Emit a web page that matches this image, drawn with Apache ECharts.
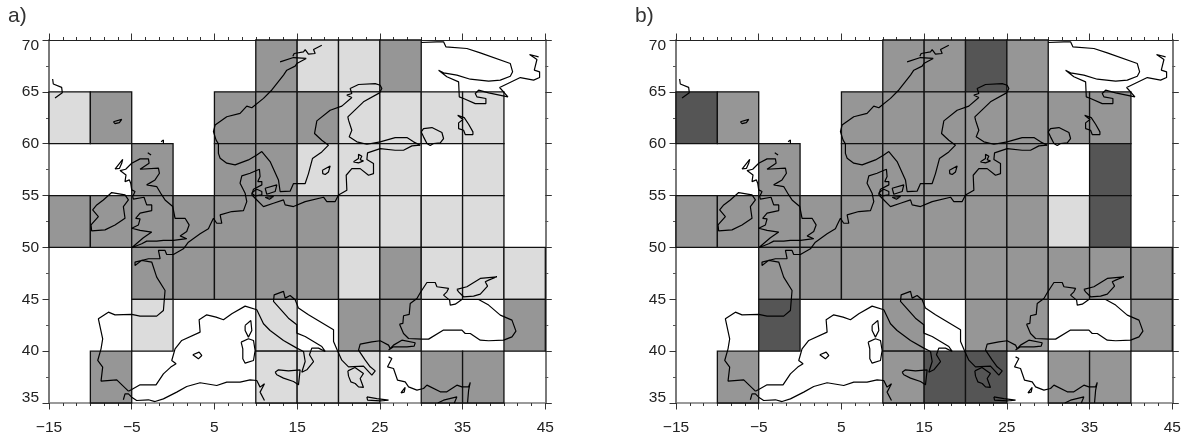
<!DOCTYPE html>
<html><head><meta charset="utf-8">
<style>html,body{margin:0;padding:0;background:#fff}#c{width:1190px;height:437px}</style>
<script src="https://cdn.jsdelivr.net/npm/echarts@6/dist/echarts.min.js"></script>
</head><body><div id="c"></div>
<script>
// Longitude / latitude ticks
const lonTicks = [-15,-5,5,15,25,35,45];
const latTicks = [35,40,45,50,55,60,65,70];
const cellLons = [-15,-10,-5,0,5,10,15,20,25,30,35,40];
const cellLats = [65,60,55,50,45,40,35];   // lower edge of each row
// cell class: 0 none, 1 light, 2 medium, 3 dark
const panelA = [
 [0,0,0,0,0,2,1,1,2,0,0,0],
 [1,2,0,0,2,2,2,1,1,1,1,0],
 [0,0,2,0,2,2,1,1,1,0,1,0],
 [2,2,2,2,2,2,2,1,1,1,1,0],
 [0,0,2,2,2,2,2,1,2,1,1,1],
 [0,0,1,0,0,1,0,2,2,0,0,2],
 [0,2,0,0,0,1,1,1,0,2,2,0]
];
const panelB = [
 [0,0,0,0,0,2,2,3,2,0,0,0],
 [3,2,0,0,2,2,2,2,2,2,2,0],
 [0,0,2,0,2,2,2,2,2,0,3,0],
 [2,2,2,2,2,2,2,2,2,1,3,0],
 [0,0,2,2,2,2,2,2,2,2,2,2],
 [0,0,3,0,0,2,0,2,2,0,0,2],
 [0,2,0,0,0,2,3,3,0,2,2,0]
];
const cellColors = [null,'#dcdcdc','#969696','#555555'];

// Coastlines [lon,lat]
const iceland = [[-14.56,66.24],[-14.48,65.76],[-13.47,65.43],[-13.39,64.92],[-14.27,64.4]];
const faroe = [[-7.22,62.12],[-6.21,62.35],[-6.49,62.03],[-7.02,61.93],[-7.22,62.12]];
const shetland = [[-1.45,60.2],[-1.17,60.35],[-1.17,59.97]];
const orkney = [[-3.06,59.13],[-2.66,58.91]];
const hebrides = [[-7.02,57.56],[-6.09,58.49],[-6.21,58.11],[-6.49,57.62],[-7.02,57.56]];
const britain = [[1.65,50.84],[0.04,50.68],[-1.17,50.68],[-1.98,50.61],[-3.19,50.61],[-3.79,50.35],[-5,49.97],[-3.59,50.93],[-2.58,51.48],[-3.99,51.64],[-5,51.85],[-4.19,52.17],[-3.99,52.75],[-4.52,52.81],[-3.99,53.3],[-2.58,53.55],[-2.58,54.1],[-3.19,54.1],[-3.51,54.84],[-4.8,54.65],[-4.88,54.9],[-4.6,55.39],[-5,55.55],[-5.12,56.19],[-5.28,56.51],[-5.81,56.35],[-5.69,56.99],[-6.41,57.41],[-5.73,57.54],[-5,58.12],[-3.99,58.54],[-2.98,58.54],[-2.9,58.12],[-3.99,57.54],[-1.77,57.64],[-1.65,57.15],[-2.18,56.51],[-3.19,56.03],[-1.98,55.87],[-1.37,55.06],[-0.97,54.58],[-0.04,53.94],[0.24,52.81],[1.45,52.81],[1.94,52.17],[1.65,51.53],[0.85,51.11],[1.65,50.84]];
const ireland = [[-8.43,54.58],[-7.42,55.29],[-5.81,55.06],[-5.4,54.58],[-6.01,53.94],[-5.81,52.81],[-7.02,52.17],[-8.23,51.69],[-9.84,51.59],[-9.92,52.17],[-9.03,52.97],[-9.72,53.62],[-9.23,54.1],[-8.43,54.58]];
const atlanticCoast = [[-5.4,36.14],[-6.81,37.23],[-8.71,37.11],[-8.51,38.46],[-9.11,39.1],[-8.71,40.22],[-8.51,41.19],[-9.03,43.12],[-7.82,43.76],[-7.02,43.5],[-5,43.54],[-3.99,43.38],[-1.98,43.38],[-1.17,43.92],[-0.97,45.85],[-1.98,47.14],[-2.58,48.59],[-3.79,48.75],[-4.6,48.26],[-4.6,48.59],[-2.98,48.91],[-1.57,48.91],[-1.77,49.71],[-0.97,49.71],[-0.77,49.32],[0.04,49.32],[1.25,49.87],[1.85,50.51],[3.27,51.32],[4.27,51.8],[4.48,52.17],[4.88,52.81],[5.28,52.33],[5.89,52.33],[5.69,53.14],[7.1,53.46],[8.51,53.55],[8.91,54.42],[8.71,55.23],[8.1,56.19],[8.31,56.9],[9.31,57.15],[10.44,57.54],[10.52,56.83],[10.24,56.35],[10.73,56.35],[10.73,56.03],[9.72,55.61],[9.52,55.06],[9.92,54.74],[10.93,53.94],[12.14,54.26],[13.35,54.58],[13.55,54.1],[14.56,53.94],[15.97,54.42],[18.19,54.84],[18.59,54.42],[19.6,54.42],[20,55.06],[21.01,55.51],[20.93,56.96],[21.61,57.6],[22.62,57.6],[23.63,56.96],[24.23,57.12],[24.23,58.09],[23.43,58.47],[23.51,59.12],[25.04,59.53],[26.85,59.37],[27.86,59.37],[28.87,59.79],[29.88,59.86]];
const bothniaCoast = [[29.88,59.86],[29.07,60.18],[28.27,60.59],[26.85,60.59],[25.04,60.18],[23.43,59.95],[22.22,60.18],[21.29,60.66],[21.61,61.3],[21.21,62.27],[21.13,62.59],[23.02,64.04],[24.96,64.9],[25.24,65.32],[25.04,65.64],[24.44,65.8],[22.42,65.71],[21.41,65.32],[21.61,64.84],[21.01,64.68],[21.61,64.45],[20.4,63.62],[18.99,63.23],[17.38,62.2],[17.1,60.98],[17.98,60.34],[18.79,59.86],[17.98,59.21],[16.85,58.57],[16.37,57.12],[15.97,56.16],[14.56,56.16],[14.15,55.42],[12.94,55.39],[12.74,56.51],[11.73,58.28],[10.73,59.24],[10.12,58.92],[9.11,58.44],[7.5,57.96],[6.49,58.12],[5.69,58.6],[5.48,59.07],[5.48,60],[5.2,60.35],[4.88,61.16],[5.08,61.8],[6.49,62.6],[8.1,62.93],[8.91,63.63],[9.52,63.47],[10.93,64.37],[11.94,65.18],[13.35,66.62],[13.75,67.09],[14.76,67.48],[14.96,67.73],[16.09,68.22],[14.56,68.31],[12.94,67.89]];
const arcticFragment = [[14.48,68.44],[14.64,68.7],[15.77,68.86],[15.97,69.08],[16.37,68.63],[17.18,68.7],[16.98,69.08],[17.98,69.5]];
const whiteSea = [[30,69.76],[31.9,69.82],[32.7,69.82],[32.98,69.34],[35.52,69.18],[37.14,68.76],[40.77,67.73],[41.05,66.93],[40.77,66.51],[39.56,66.13],[38.15,66.03],[35.93,66.22],[34.31,66.61],[32.7,66.83],[32.1,67.09],[33.1,66.45],[34.52,65.96],[34.6,64.52],[35.12,64.36],[36.53,63.87],[37.82,63.87],[37.82,64.36],[36.73,64.52],[36.53,64.84],[36.94,65.16],[38.15,64.9],[40.48,64.52],[39.48,65.42],[41.98,66.38],[43.59,66.13],[44.31,66.38],[44.31,66.93],[43.67,67.09],[43.99,68.12],[43.1,68.6],[44.19,68.38]];
const ladoga = [[30,61.14],[30.28,61.46],[31.29,61.56],[32.5,61.08],[32.7,60.5],[32.3,60.08],[31.49,60.02],[31.09,59.82],[30.69,60.02],[30.28,60.66],[30,61.14]];
const onega = [[34.4,62.75],[35.2,62.52],[35.73,61.88],[36.25,61.14],[36.25,60.88],[35.32,60.88],[35.12,61.3],[34.52,61.46],[34.52,62.01],[35.04,62.33],[34.4,62.75]];
const gotland = [[18.06,57.44],[18.99,57.86],[18.79,57.28],[18.39,57.03],[18.1,57.12],[18.06,57.44]];
const saaremaa = [[21.81,58.25],[22.42,58.57],[22.42,58.99],[22.82,58.79],[22.62,58.47],[23.02,58.34],[22.42,58.15],[21.81,58.25]];
const funen = [[9.72,55.39],[10.12,55.61],[10.73,55.39],[10.73,55.06],[9.92,54.97],[9.52,55.23],[9.72,55.39]];
const zealand = [[11.13,55.71],[12.54,56.03],[12.34,55.39],[11.33,55.13],[11.13,55.71]];
const lolland = [[11.13,54.84],[12.14,54.9],[11.65,54.65],[11.13,54.84]];
const medNorth = [[-5.4,36.14],[-5,36.3],[-3.99,36.75],[-2.06,36.75],[-1.17,37.81],[-0.28,38.46],[0.36,38.78],[-0.16,39.1],[0.24,40.22],[1.05,41.03],[3.27,41.83],[3.15,43.03],[4.07,43.5],[5.2,43.28],[6.09,43.03],[7.1,43.6],[8.71,44.34],[10.12,43.99],[10.93,42.64],[11.73,41.99],[13.35,41.03],[14.96,40.29],[15.77,39.97],[15.97,39],[15.56,37.97],[16.17,38.2],[16.98,39],[16.49,39.65],[16.77,40.29],[17.58,40.29],[18.39,39.97],[17.98,40.45],[15.97,41.41],[14.96,41.74],[14.96,42.54],[13.95,43.18],[12.14,44.79],[12.22,45.43],[13.35,45.76],[13.55,45.11],[14.15,45.37],[14.76,44.95],[15.16,44.15],[16.37,43.5],[19.4,42.06],[19.4,40.93],[19.88,40.03],[20.4,39.13],[21.21,38.49],[23.02,38.55],[24.03,37.68],[24.44,38.1],[23.83,38.49],[23.23,39.13],[22.42,40.1],[22.62,40.68],[24.03,40.9],[25.04,41],[26.05,40.58],[26.25,40.26]];
const peloponnese = [[21.13,38.1],[21.99,38.42],[23.02,37.85],[22.62,37.36],[23.02,36.5],[22.42,36.56],[22.02,36.88],[21.49,37.04],[21.21,37.59],[21.13,38.1]];
const blackSea = [[27.38,42.6],[27.86,41.7],[28.47,41.22],[30.08,41.16],[30.89,41.16],[32.7,42.03],[34.92,42.03],[35.32,41.7],[35.93,41.7],[37.14,41.06],[38.15,41],[39.96,41.06],[40.97,41.38],[41.45,41.93],[40.97,42.99],[39.56,43.47],[38.15,44.44],[36.94,44.98],[34.92,44.98],[34.11,44.53],[33.51,44.44],[33.43,44.92],[32.7,45.4],[33.1,45.72],[33.31,46.05],[31.9,46.21],[31.69,46.62],[30.69,46.62],[29.88,45.63],[29.48,45.08],[28.67,44.6],[28.55,43.54],[27.86,43.41],[27.78,42.67],[27.38,42.6]];
const azov = [[34.31,45.95],[35.52,46.21],[37.14,47.01],[39.15,47.17],[38.15,46.85],[37.74,46.69],[38.02,46.27],[37.14,45.5],[36.33,45.31],[35.12,45.24],[34.92,45.4],[34.52,45.72],[34.31,45.95]];
const marmara = [[26.05,40.1],[26.65,40.58],[27.66,41.06],[29.27,40.81],[29.15,40.48],[28.27,40.42],[26.65,40.42],[26.05,40.1]];
const turkeySouth = [[26.05,39.45],[26.45,39.29],[25.93,38.49],[26.65,38.33],[27.14,37.2],[28.06,37.04],[28.47,36.56],[29.48,36.24],[30.28,36.4],[30.69,36.72],[32.3,36.08],[33.1,36.08],[34.31,36.72],[34.92,36.56],[35.73,36.56],[35.93,36.98],[35.73,36.24],[35.6,35.02]];
const cyprus = [[32,35],[32.7,35.27],[34.31,35.59],[34,35]];
const crete = [[23.43,35.59],[23.51,35.27],[25.04,35.21],[26.05,35.27],[24.64,35.43],[23.43,35.59]];
const rhodes = [[27.54,35.98],[28.06,36.5],[27.94,36.05],[27.54,35.98]];
const sicily = [[12.34,37.97],[12.74,38.2],[13.95,38.1],[15.36,38.2],[15.16,36.75],[14.56,37.07],[13.35,37.4],[12.54,37.72],[12.34,37.97]];
const corsica = [[8.71,42.48],[9.4,42.96],[9.52,41.99],[9.11,41.35],[8.71,41.99],[8.71,42.48]];
const sardinia = [[8.23,40.87],[9.11,41.19],[9.72,41.03],[9.92,40.06],[9.72,39.1],[8.71,38.84],[8.43,39.26],[8.43,40.22],[8.23,40.87]];
const mallorca = [[2.38,39.65],[3.15,39.9],[3.47,39.58],[3.06,39.26],[2.38,39.65]];
const northAfrica = [[-6.01,35.31],[-5.81,35.88],[-5.4,35.88],[-5,35.56],[-4.4,35.24],[-2.98,35.31],[-2.18,35.14],[-1.17,35.4],[0.44,36.05],[1.65,36.59],[3.27,36.95],[5.28,36.69],[6.49,37.01],[8.1,37.01],[9.31,37.23],[10.12,37.17],[10.52,36.53],[11.05,36.85],[10.52,36.05],[11.05,35.24]];
const coasts = [iceland,faroe,shetland,orkney,hebrides,britain,ireland,atlanticCoast,bothniaCoast,arcticFragment,whiteSea,ladoga,onega,gotland,saaremaa,funen,zealand,lolland,medNorth,peloponnese,blackSea,azov,marmara,turkeySouth,cyprus,crete,rhodes,sicily,corsica,sardinia,mallorca,northAfrica];

const axisFont = {fontFamily:'Liberation Sans',fontSize:15.5,color:'#222'};
const axisGray = '#7a7a7a';
function xAxis(i,pos,labels){
  return {type:'value',gridIndex:i,position:pos,min:-15,max:45,interval:10,
    axisLine:{show:true,onZero:false,lineStyle:{color:pos==='top'?'#222':axisGray,width:pos==='top'?1:1.5}},
    axisTick:{show:true,length:6.5,lineStyle:{color:'#333',width:1}},
    minorTick:{show:true,splitNumber:6,length:3,lineStyle:{color:'#333',width:1}},
    splitLine:{show:false},minorSplitLine:{show:false},
    axisLabel:{show:labels,margin:17,...axisFont,formatter:v=>String(v).replace('-','\u2212')}};
}
function yAxis(i,pos,labels){
  return {type:'value',gridIndex:i,position:pos,min:35,max:70,interval:5,
    axisLine:{show:true,onZero:false,lineStyle:{color:axisGray,width:2}},
    axisTick:{show:true,length:6.5,lineStyle:{color:'#333',width:1}},
    minorTick:{show:true,splitNumber:2,length:3,lineStyle:{color:'#555',width:1}},
    splitLine:{show:false},minorSplitLine:{show:false},
    axisLabel:{show:labels,margin:10,lineHeight:11,verticalAlignMinLabel:'bottom',verticalAlignMaxLabel:'top',...axisFont}};
}
function cellData(panel){
  const out=[];
  panel.forEach((row,r)=>row.forEach((v,c)=>{ if(v) out.push([cellLons[c],cellLats[r],v]); }));
  return out;
}
function cellSeries(i,panel){
  return {type:'custom',xAxisIndex:i*2,yAxisIndex:i*2,z:2,silent:true,clip:false,
    data:cellData(panel),encode:{x:0,y:1},
    renderItem:(p,api)=>{
      const a=api.coord([api.value(0),api.value(1)]);
      const b=api.coord([api.value(0)+5,api.value(1)+5]);
      return {type:'rect',shape:{x:a[0],y:b[1],width:b[0]-a[0],height:a[1]-b[1]},
        style:{fill:cellColors[api.value(2)],stroke:'#111',lineWidth:1.3}};
    }};
}
function coastSeries(i){
  return coasts.map(c=>({type:'line',xAxisIndex:i*2,yAxisIndex:i*2,z:4,silent:true,showSymbol:false,symbol:'none',
    data:c,lineStyle:{color:'#000',width:1.2},animation:false}));
}
const titleStyle={fontFamily:'Liberation Sans',fontSize:21,fontWeight:'normal',color:'#333'};
const option={
  animation:false,backgroundColor:'#fff',
  title:[
    {text:'a)',left:3,top:1,textStyle:titleStyle},
    {text:'b)',left:630,top:1,textStyle:titleStyle}
  ],
  grid:[
    {left:49,top:40,width:496.3,height:363},
    {left:676,top:40,width:496.3,height:363}
  ],
  xAxis:[xAxis(0,'bottom',true),xAxis(0,'top',false),xAxis(1,'bottom',true),xAxis(1,'top',false)],
  yAxis:[yAxis(0,'left',true),yAxis(0,'right',false),yAxis(1,'left',true),yAxis(1,'right',false)],
  series:[cellSeries(0,panelA),...coastSeries(0),cellSeries(1,panelB),...coastSeries(1)]
};
echarts.init(document.getElementById('c'),null,{renderer:'canvas'}).setOption(option);
</script></body></html>
